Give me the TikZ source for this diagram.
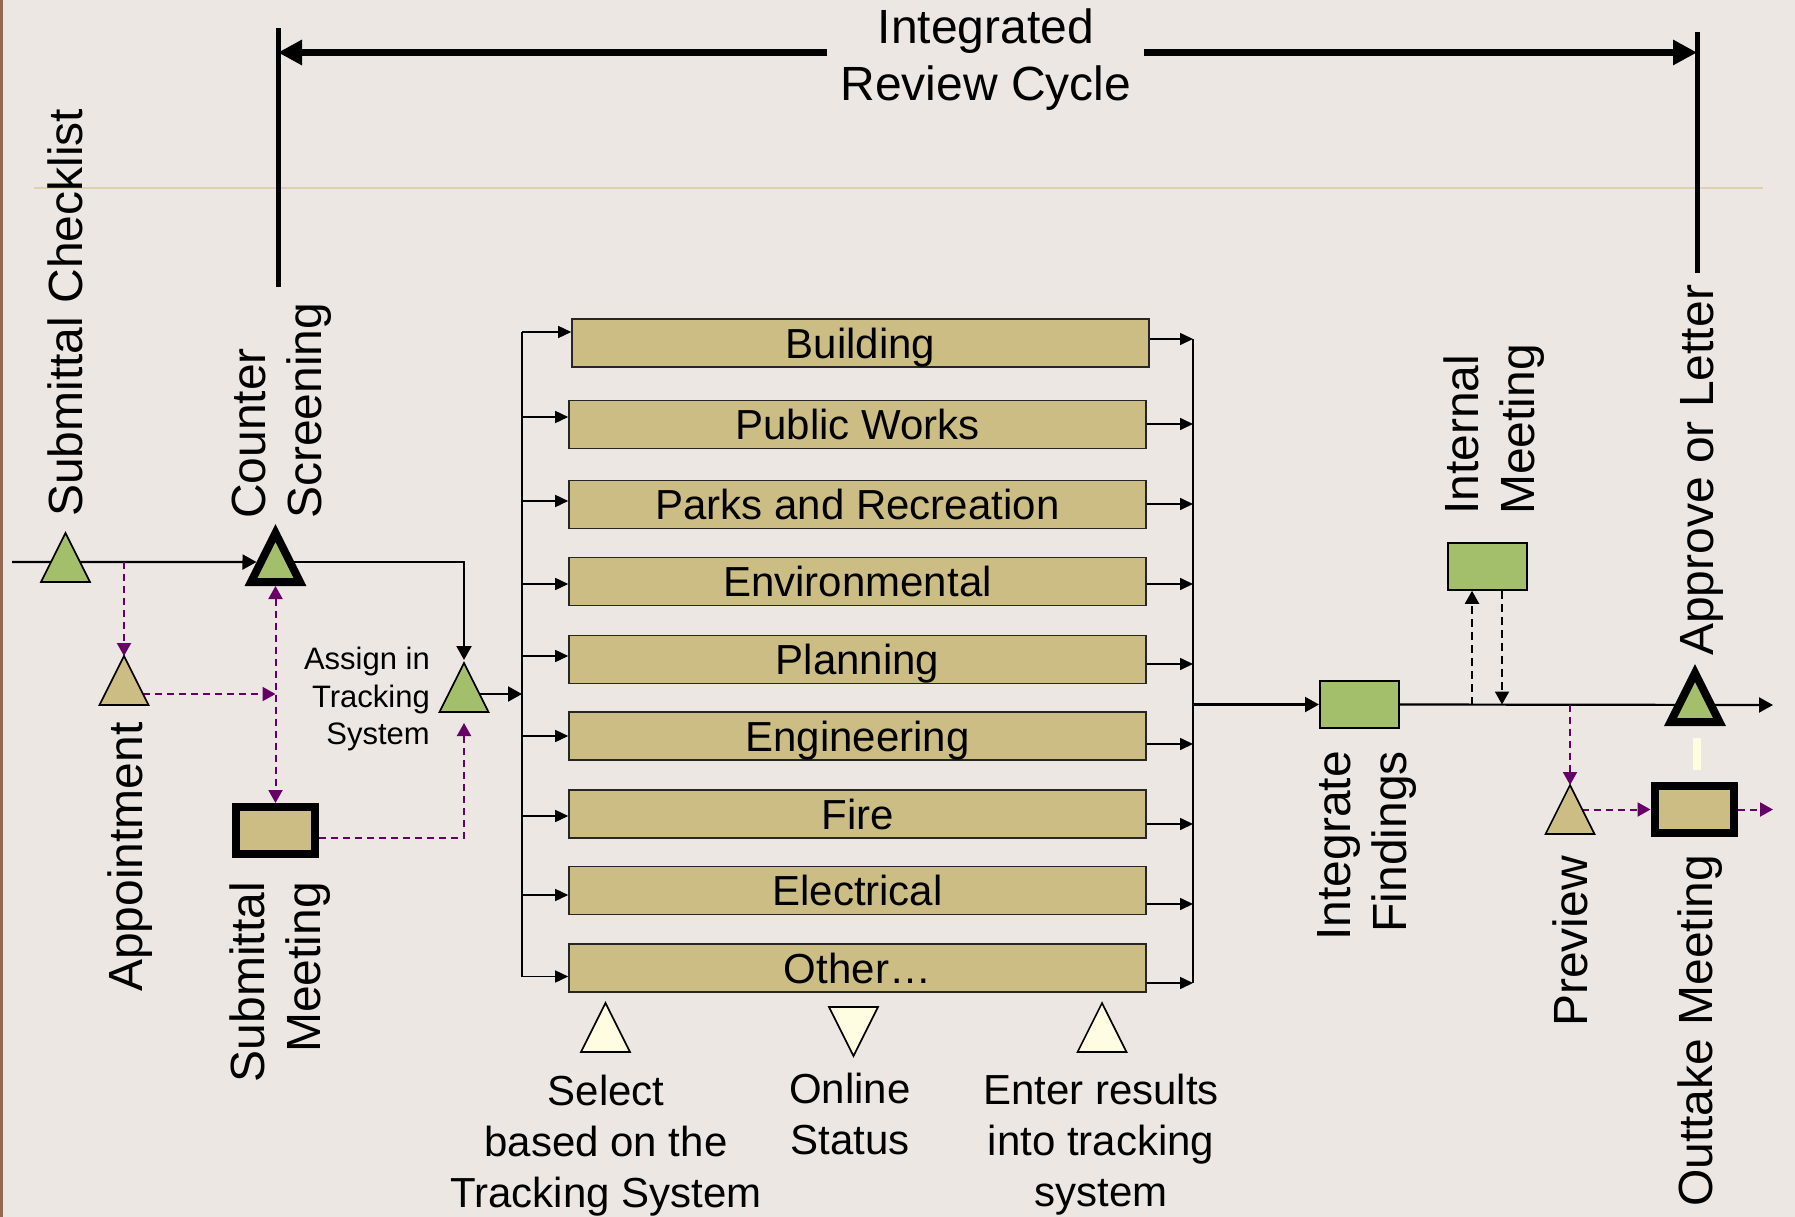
\documentclass[tikz,border=0pt]{standalone}
\usepackage{fontspec}
\setmainfont{Liberation Sans}
\usetikzlibrary{arrows.meta,calc}
\definecolor{bgc}{RGB}{236,231,227}
\definecolor{tanc}{RGB}{203,189,131}
\definecolor{grnc}{RGB}{163,191,107}
\definecolor{crmc}{RGB}{255,253,225}
\definecolor{purc}{RGB}{102,0,102}
\definecolor{faintc}{RGB}{221,209,176}
\definecolor{brnc}{RGB}{145,105,85}
\begin{document}
\begin{tikzpicture}[x=1pt, y=-1pt,
  font=\fontsize{48}{56}\selectfont,
  trinode/.style={rectangle, minimum width=49pt, minimum height=49pt, inner sep=0pt, outer sep=0pt},
  tri/.style={draw=black, line width=1.6pt, line join=miter},
  thicktri/.style={draw=black, line width=8pt, line join=miter, fill=grnc},
  dept/.style={rectangle, draw=black!85, line width=1.6pt, fill=tanc, minimum width=577pt, minimum height=48pt, inner sep=0pt, font=\fontsize{42}{50}\selectfont, text height=30.5pt, text depth=0pt},
  gbox/.style={rectangle, draw=black, line width=2pt, fill=grnc, minimum width=79pt, minimum height=46.5pt, inner sep=0pt},
  mbox/.style={rectangle, draw=black, line width=8pt, fill=tanc, minimum width=79pt, minimum height=47pt, inner sep=0pt},
  flow/.style={draw=black, line width=2.2pt, -{Triangle[length=14pt,width=15pt]}},
  dflow/.style={draw=black, line width=1.6pt, -{Triangle[length=13pt,width=12pt]}},
  pflow/.style={draw=purc, line width=2pt, dash pattern=on 7pt off 5pt, -{Triangle[length=13pt,width=14pt]}},
  pboth/.style={draw=purc, line width=2pt, dash pattern=on 7pt off 5pt, {Triangle[length=13pt,width=14pt]}-{Triangle[length=13pt,width=14pt]}},
  bflow/.style={draw=black, line width=2pt, dash pattern=on 8pt off 5pt, -{Triangle[length=13pt,width=14pt]}},
  bigarrow/.style={draw=black, line width=7.3pt, -{Triangle[length=24pt,width=24pt]}},
  bracket/.style={draw=black, line width=5pt},
  rlab/.style={rotate=90, inner sep=0pt},
  blab/.style={align=center, inner sep=0pt, font=\fontsize{42}{51}\selectfont}]

% background
\useasboundingbox (0,0) rectangle (1795,1217);
\fill[bgc] (0,0) rectangle (1795,1217);
\fill[brnc] (0,0) rectangle (2.5,1217);
\draw[faintc, line width=1.5pt] (34,188) -- (1763,188);

% title and review-cycle bracket
\node[anchor=north, align=center, inner sep=0pt, font=\fontsize{48}{57}\selectfont] (title) at (986,9) {Integrated\\Review Cycle};
\coordinate (bl1) at (278,28);
\coordinate (bl2) at (278,287);
\coordinate (br1) at (1697,32);
\coordinate (br2) at (1697,273);
\coordinate (ta) at (827,52.5);
\coordinate (tb) at (1144,52.5);
\draw[bracket] (bl1) -- (bl2);
\draw[bracket] (br1) -- (br2);
\draw[bigarrow] (ta) -- (ta -| bl1);
\draw[bigarrow] (tb) -- (tb -| br1);

% anchor boxes of the triangles
\node[trinode] (sc) at (65.5,557.5) {};
\node[trinode] (cs) at (275.5,557.5) {};
\node[trinode] (ap) at (124,680.5) {};
\node[trinode] (as) at (464,687.5) {};
\node[trinode] (ps) at (1570,809.5) {};
\node[trinode] (aol) at (1695,697.5) {};
\node[trinode] (sel) at (605.5,1027.5) {};
\node[trinode] (onl) at (853.5,1031.5) {};
\node[trinode] (ent) at (1102,1027.5) {};

% boxes
\node[mbox] (sm) at (275.5,830.5) {};
\node[gbox] (if) at (1359.5,704.5) {};
\node[gbox] (im) at (1487.5,566.5) {};
\node[mbox] (om) at (1694,809.5) {};

% distribution and collection lines
\coordinate (dtop) at (522,332);
\coordinate (dbot) at (522,976.5);
\coordinate (ctop) at (1193,339);
\coordinate (cbot) at (1193,983);
\draw[black, line width=1.6pt] (dtop) -- (dbot);
\draw[black, line width=1.6pt] (ctop) -- (cbot);

\foreach \nm/\lab/\xc/\yc/\dl/\dr in {
  b1/Building/860.5/343/-11/-4,
  b2/Public Works/857.5/424.5/-7.5/-0.5,
  b3/Parks and Recreation/857.5/504.5/-3.5/-0.5,
  b4/Environmental/857.5/581.5/2.5/2.5,
  b5/Planning/857.5/659.5/-3.5/4.5,
  b6/Engineering/857.5/736/0/8,
  b7/Fire/857.5/814/2/10,
  b8/Electrical/857.5/890.5/4.5/13.5,
  b9/Other…/857.5/968/8.5/15}{
  \node[dept] (\nm) at (\xc,\yc) {\lab};
  \coordinate (\nm-l) at ($(\nm.west)+(0,\dl)$);
  \coordinate (\nm-r) at ($(\nm.east)+(0,\dr)$);
  \draw[dflow] (\nm-l -| dtop) -- (\nm-l);
  \draw[dflow] (\nm-r) -- (\nm-r -| ctop);
}

% main flow, left part
\coordinate (m0) at (12,562);
\coordinate (csL) at ($(cs.south west)!0.408!(cs.north)+(-4.5,0)$);
\coordinate (csR) at ($(cs.south east)!0.408!(cs.north)$);
\coordinate (asR) at ($(as.south east)!0.367!(as.north)$);
\coordinate (apR) at ($(ap.south east)!0.224!(ap.north)$);
\draw[flow] (m0) -- (csL);
\draw[flow] (csR) -| ($(as.north)+(0,-3)$);
\draw[flow] (asR) -- (asR -| dtop);
\draw[pflow] (ap.north |- m0) -- (ap.north);
\draw[pflow] (apR) -- (apR -| cs.center);
\draw[pboth] ($(cs.south)+(0,4)$) -- (sm.north);
\draw[pflow] ($(sm.east)+(0,7.5)$) -| ($(as.south)+(0,11)$);

% main flow, right part
\coordinate (mend) at (1773,705);
\coordinate (oend) at (1773,809.5);
\coordinate (imL) at ($(im.south)+(-15.5,0)$);
\coordinate (imR) at ($(im.south)+(14.5,0)$);
\coordinate (psR) at ($(ps.south east)!0.5!(ps.north)$);
\draw[flow] (if.west -| ctop) -- (if.west);
\draw[flow] (if.east) -- (mend);
\draw[bflow] (imL |- if.east) -- (imL);
\draw[bflow] (imR) -- (imR |- if.east);
\draw[pflow] (ps.north |- if.east) -- (ps.north);
\draw[pflow] (psR) -- (psR -| om.west);
\draw[pflow] (om.east) -- (oend);
\draw[crmc, line width=8pt] ($(aol.south)+(2,16)$) -- ($(om.north)+(3,-12)$);

% triangles
\foreach \t/\c in {sc/grnc, ap/tanc, as/grnc, ps/tanc, sel/crmc, ent/crmc}
  \draw[tri, fill=\c] (\t.north) -- (\t.south east) -- (\t.south west) -- cycle;
\draw[tri, fill=crmc] (onl.south) -- (onl.north east) -- (onl.north west) -- cycle;
\foreach \t in {cs, aol}
  \draw[thicktri] (\t.north) -- (\t.south east) -- (\t.south west) -- cycle;

% labels
\node[rlab, anchor=base west] (lsc) at (82,517) {Submittal Checklist};
\node[rlab, anchor=north west, align=left] (lcs) at (232,519) {Counter\\Screening};
\node[rlab, anchor=base west] (lap) at (142,992) {Appointment};
\node[rlab, anchor=north east, align=right] (lsm) at (230,882) {Submittal\\Meeting};
\node[anchor=north east, align=right, inner sep=0pt, font=\fontsize{31}{37.5}\selectfont] (las) at (430,647) {Assign in\\Tracking\\System};
\node[rlab, anchor=north east, align=right] (lif) at (1317,751) {Integrate\\Findings};
\node[rlab, anchor=north west, align=left] (lim) at (1443,515) {Internal\\Meeting};
\node[rlab, anchor=base west] (laol) at (1713,656) {Approve or Letter};
\node[rlab, anchor=base west] (lps) at (1587,1027) {Preview};
\node[rlab, anchor=base west] (lom) at (1712,1207) {Outtake Meeting};
\node[blab, anchor=north] (lsel) at (606,1075) {Select\\based on the\\Tracking System};
\node[blab, anchor=north] (lonl) at (850,1073) {Online\\Status};
\node[blab, anchor=north] (lent) at (1101,1074) {Enter results\\into tracking\\system};
\end{tikzpicture}
\end{document}
